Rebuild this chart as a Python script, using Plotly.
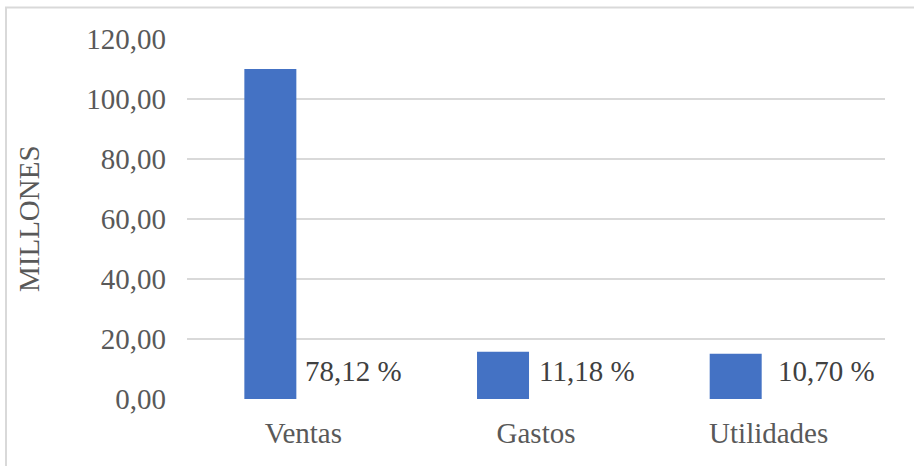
import plotly.graph_objects as go

# Datos del gráfico (millones)
categorias = ["Ventas", "Gastos", "Utilidades"]
valores = [110.00, 15.74, 15.07]
ticks_y = [0, 20, 40, 60, 80, 100, 120]

total = sum(valores)
porcentajes = [v / total * 100 for v in valores]
etiquetas = [f"{p:.2f}".replace(".", ",") + " %" for p in porcentajes]

W, H = 914, 466
L, R, T, B = 187, 29, 38.5, 66.5
pw, ph = W - L - R, H - T - B

FUENTE = "Liberation Serif"
AZUL = "#4472C4"
GRIS_TXT = "#595959"
GRIS_LINEA = "#d9d9d9"


def px_x(px):
    return (px - L) / pw


def px_y(py):
    return (H - B - py) / ph


fig = go.Figure()
fig.add_trace(
    go.Bar(
        x=categorias,
        y=valores,
        marker=dict(color=AZUL, line=dict(width=0)),
        width=0.2235,
        offset=-0.2535,
        hoverinfo="x+y",
    )
)

# Etiquetas de participación porcentual junto a cada barra
for cat, txt, dx in zip(categorias, etiquetas, [0, 1, 7]):
    fig.add_annotation(
        x=cat, y=9.4, xref="x", yref="y",
        text=txt, showarrow=False,
        xanchor="left", yanchor="middle", xshift=dx,
        font=dict(family=FUENTE, size=29, color="#404040"),
    )

# Título del eje Y
fig.add_annotation(
    x=px_x(29), y=0.5, xref="paper", yref="paper",
    text="MILLONES", textangle=-90, showarrow=False,
    xanchor="center", yanchor="middle",
    font=dict(family=FUENTE, size=29, color=GRIS_TXT),
)

# Marco del área del gráfico
fig.add_shape(
    type="rect", xref="paper", yref="paper",
    x0=px_x(6), x1=px_x(930), y0=px_y(480), y1=px_y(7),
    line=dict(color=GRIS_LINEA, width=2), fillcolor="rgba(0,0,0,0)",
    layer="below",
)

fig.update_layout(
    width=W, height=H,
    margin=dict(l=L, r=R, t=T, b=B, autoexpand=False),
    paper_bgcolor="white", plot_bgcolor="white",
    separators=",.",
    showlegend=False,
    font=dict(family=FUENTE, size=29, color=GRIS_TXT),
    xaxis=dict(
        type="category", showgrid=False, zeroline=False, showline=False,
        ticks="", ticklabelstandoff=14,
        tickfont=dict(family=FUENTE, size=29, color=GRIS_TXT),
    ),
    yaxis=dict(
        range=[0, 120], tickvals=ticks_y, tickformat=".2f",
        showgrid=True, gridcolor=GRIS_LINEA, gridwidth=1.5,
        zeroline=False, showline=False, ticks="", ticklabelstandoff=20,
        tickfont=dict(family=FUENTE, size=29, color=GRIS_TXT),
    ),
)

fig.write_html("out.html")
